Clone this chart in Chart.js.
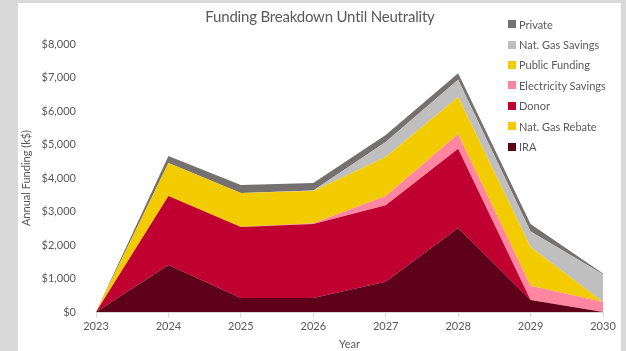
<!DOCTYPE html>
<html>
<head>
<meta charset="utf-8">
<script src="https://cdn.jsdelivr.net/npm/chart.js@4"></script>
<style>
  body { margin: 0; background: #d9d9d9; font-family: Lato, "Open Sans", sans-serif; }
  #card { position: absolute; left: 18px; top: 3px; width: 603px; height: 348px; background: #fff; }
  #wrap { position: absolute; left: 0; top: 0; width: 626px; height: 351px; }
  #title { position: absolute; left: 0; width: 640px; top: 7px; text-align: center; font-size: 15px; letter-spacing: -0.2px; color: #595959; }
  #legend { position: absolute; left: 508px; top: 14px; font-size: 11px; color: #595959; }
  .item { height: 20.4px; display: flex; align-items: center; }
  .sw { width: 8px; height: 8px; margin-right: 3px; }
</style>
</head>
<body>
<div id="card"></div>
<div id="wrap"><canvas id="chart" width="626" height="351"></canvas></div>
<div id="title">Funding Breakdown Until Neutrality</div>
<div id="legend"></div>
<script>
// Years on the x axis
const years = ['2023', '2024', '2025', '2026', '2027', '2028', '2029', '2030'];

// Series, bottom of the stack first (k$)
const ira          = [0, 1400, 420, 420, 900, 2510, 360, 0];
const natGasRebate = [0, 0, 0, 0, 0, 0, 0, 0];
const donor        = [0, 2060, 2120, 2210, 2290, 2360, 0, 0];
const elecSavings  = [0, 0, 0, 20, 270, 440, 420, 300];
const publicFund   = [0, 990, 1010, 960, 1170, 1110, 1160, 0];
const natGasSav    = [0, 0, 0, 20, 445, 510, 466, 830];
const privateFund  = [0, 210, 240, 220, 205, 200, 220, 20];

const seriesNames  = ['IRA', 'Nat. Gas Rebate', 'Donor', 'Electricity Savings', 'Public Funding', 'Nat. Gas Savings', 'Private'];
const seriesData   = [ira, natGasRebate, donor, elecSavings, publicFund, natGasSav, privateFund];
const seriesColors = ['#5e0019', '#f2cb00', '#c00030', '#ff86a0', '#f2cb00', '#bfbfbf', '#767171'];

const yMax = 8000;
const yStep = 1000;

const datasets = seriesNames.map((name, i) => ({
    label: name,
    data: seriesData[i],
    backgroundColor: seriesColors[i],
    borderColor: seriesColors[i],
    borderWidth: 0,
    pointRadius: 0,
    tension: 0,
    fill: i === 0 ? 'origin' : '-1'
}));

// Legend, top of the stack first
const legend = document.getElementById('legend');
seriesNames.slice().reverse().forEach((name, j) => {
    const i = seriesNames.length - 1 - j;
    const row = document.createElement('div');
    row.className = 'item';
    row.innerHTML = `<span class="sw" style="background:${seriesColors[i]}"></span><span>${name}</span>`;
    legend.appendChild(row);
});

const tickFont = { family: 'Lato, "Open Sans", sans-serif', size: 11 };

new Chart(document.getElementById('chart').getContext('2d'), {
    type: 'line',
    data: { labels: years, datasets: datasets },
    options: {
        responsive: false,
        animation: false,
        layout: { padding: { left: 0, right: 23, top: 44, bottom: 0 } },
        plugins: { legend: { display: false }, tooltip: { enabled: false } },
        scales: {
            x: {
                offset: false,
                grid: { display: true, drawOnChartArea: false, drawTicks: true, tickLength: 5, color: '#d9d9d9' },
                border: { display: true, color: '#d9d9d9' },
                ticks: { color: '#595959', font: tickFont, padding: 3, maxRotation: 0 },
                title: { display: true, text: 'Year', color: '#595959', font: tickFont, padding: { top: 1, bottom: 0 } },
                afterFit: (scale) => { scale.height = 39; }
            },
            y: {
                stacked: true,
                min: 0,
                max: yMax,
                grid: { display: false },
                border: { display: false },
                ticks: {
                    stepSize: yStep,
                    color: '#595959',
                    font: tickFont,
                    padding: 12,
                    callback: (v) => v === 0 ? '$0' : '$' + v.toLocaleString('en-US')
                },
                title: { display: true, text: 'Annual Funding (k$)', color: '#595959', font: tickFont, padding: { top: 20, bottom: 0 } },
                afterFit: (scale) => { scale.width = 96; }
            }
        }
    }
});
</script>
</body>
</html>
